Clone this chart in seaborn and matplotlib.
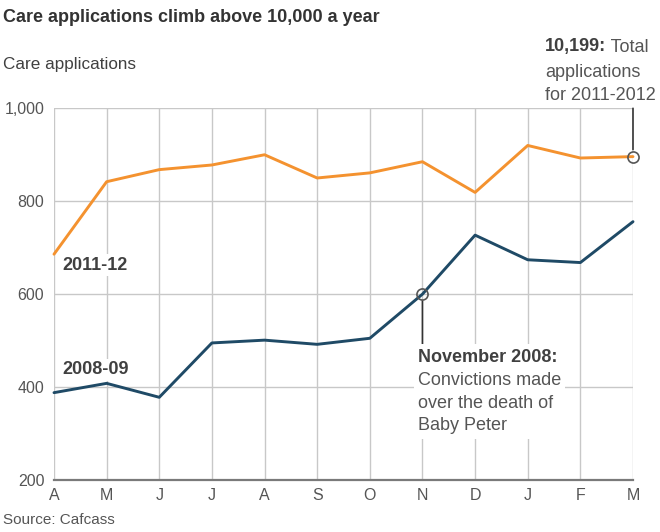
import numpy as np
import pandas as pd
import matplotlib
matplotlib.use("Agg")
import matplotlib.pyplot as plt
import seaborn as sns

# Data
months = ["A", "M", "J", "J", "A", "S", "O", "N", "D", "J", "F", "M"]
apps_2011_12 = [686, 842, 868, 878, 900, 850, 861, 885, 819, 920, 893, 896]
apps_2008_09 = [388, 408, 378, 495, 501, 492, 505, 600, 727, 674, 668, 756]
y_ticks = [200, 400, 600, 800, 1000]

orange = "#f4922f"
navy = "#1f4a66"
grey_text = "#555555"
dark_text = "#404040"

sns.set_theme(style="white")
plt.rcParams["font.family"] = ["Liberation Sans", "DejaVu Sans"]

df = pd.DataFrame({
    "pos": list(range(len(months))) * 2,
    "apps": apps_2011_12 + apps_2008_09,
    "year": ["2011-12"] * 12 + ["2008-09"] * 12,
})

W, H = 660, 532
fig = plt.figure(figsize=(W / 100, H / 100), dpi=100)
ax = fig.add_axes([54 / W, 1 - 480 / H, (633 - 54) / W, (480 - 108.3) / H])

sns.lineplot(data=df, x="pos", y="apps", hue="year",
             palette={"2011-12": orange, "2008-09": navy},
             linewidth=2.1, legend=False, ax=ax, zorder=4)
for ln in ax.lines:
    ln.set_clip_on(False)

ax.set_xlim(0, len(months) - 1)
ax.set_ylim(200, 1000)
ax.set_xticks(range(len(months)))
ax.set_xticklabels(months)
ax.set_yticks(y_ticks)
ax.set_yticklabels([f"{v:,}" for v in y_ticks])
ax.set_xlabel("")
ax.set_ylabel("")
ax.grid(True, color="#c8c8c8", linewidth=1.0, zorder=0)
ax.set_axisbelow(True)
for s in ["top", "right", "left"]:
    ax.spines[s].set_visible(False)
ax.spines["bottom"].set_color("#7a7a7a")
ax.spines["bottom"].set_linewidth(1.6)
ax.tick_params(axis="both", length=0, labelsize=11.5, labelcolor=grey_text)
ax.tick_params(axis="x", pad=6)
ax.tick_params(axis="y", pad=7)

# Highlighted points
ax.plot([11], [apps_2011_12[11]], "o", ms=8, mfc="none", mec="#555555",
        mew=1.2, clip_on=False, zorder=6)
ax.plot([7], [apps_2008_09[7]], "o", ms=8, mfc="none", mec="#555555",
        mew=1.2, clip_on=False, zorder=6)
ax.annotate("", xy=(11, apps_2011_12[11]), xytext=(11, 1000),
            arrowprops=dict(arrowstyle="-", color="#333333", lw=1.2,
                            shrinkA=0, shrinkB=5), annotation_clip=False)
ax.annotate("", xy=(7, apps_2008_09[7]), xytext=(7, 467),
            arrowprops=dict(arrowstyle="-", color="#333333", lw=1.2,
                            shrinkA=0, shrinkB=5), annotation_clip=False)


def fx(x):
    return x / W


def fy(y):
    return 1 - y / H


# Titles and source
fig.text(fx(3), fy(18), "Care applications climb above 10,000 a year",
         fontsize=13, fontweight="bold", color="#333333", va="center")
fig.text(fx(3), fy(65), "Care applications", fontsize=12.3,
         color=dark_text, va="center")
fig.text(fx(3), fy(520), "Source: Cafcass", fontsize=11, color=grey_text,
         va="center")

# Series labels
wbox = dict(facecolor="white", edgecolor="none", pad=1.5)
fig.text(fx(62), fy(265), "2011-12", fontsize=13, fontweight="bold",
         color=dark_text, va="center", bbox=wbox, zorder=5)
fig.text(fx(62), fy(370), "2008-09", fontsize=13, fontweight="bold",
         color=dark_text, va="center", bbox=wbox, zorder=5)

# Total annotation
t1 = fig.text(fx(545), fy(47), "10,199:", fontsize=13, fontweight="bold",
              color=dark_text, va="center")
ax.annotate(" Total", xy=(1, 0), xycoords=t1, va="bottom", fontsize=13,
            color=grey_text, annotation_clip=False)
fig.text(fx(545), fy(84), "applications\nfor 2011-2012", fontsize=13,
         color=grey_text, va="center", linespacing=1.5)

# November 2008 annotation
nbox = dict(facecolor="white", edgecolor="none", pad=3)
fig.text(fx(418), fy(357), "November 2008:", fontsize=13, fontweight="bold",
         color=dark_text, va="center", bbox=nbox, zorder=5)
fig.text(fx(418), fy(403), "Convictions made\nover the death of\nBaby Peter",
         fontsize=13, color=grey_text, va="center", linespacing=1.45,
         bbox=nbox, zorder=5)

fig.savefig("out.png", dpi=100, facecolor="white")
